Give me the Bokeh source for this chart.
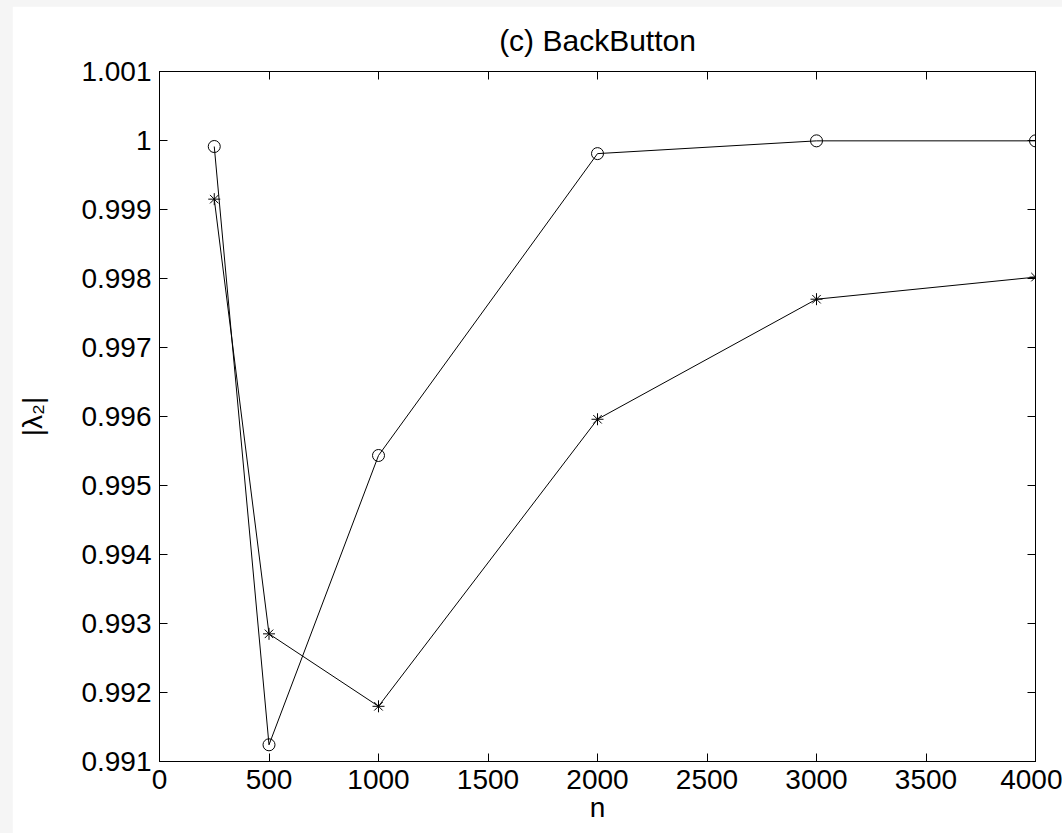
from bokeh.plotting import figure
from bokeh.models import LinearAxis, FixedTicker, Range1d
from bokeh.embed import file_html
from bokeh.resources import INLINE

# data
n_values = [250, 500, 1000, 2000, 3000, 4000]
circle_series = [0.999913, 0.991242, 0.995435, 0.999810, 0.999995, 0.999995]
star_series = [0.999150, 0.992850, 0.991800, 0.995960, 0.997700, 0.998020]
x_ticks = [0, 500, 1000, 1500, 2000, 2500, 3000, 3500, 4000]
y_ticks = [0.991, 0.992, 0.993, 0.994, 0.995, 0.996, 0.997, 0.998, 0.999, 1.0, 1.001]
y_tick_labels = ["0.991", "0.992", "0.993", "0.994", "0.995", "0.996", "0.997", "0.998", "0.999", "1", "1.001"]
title_text = "(c) BackButton"
x_label = "n"
y_label = "|λ₂|"

FONT = "Liberation Sans"

p = figure(width=1050, height=827, output_backend="svg", toolbar_location=None,
           x_range=Range1d(0, 4000), y_range=Range1d(0.991, 1.001),
           min_border_left=147, min_border_right=27, min_border_top=65, min_border_bottom=72,
           x_axis_location=None, y_axis_location=None)
p.margin = (6, 0, 0, 12)
p.grid.visible = False
p.outline_line_color = "black"
p.outline_line_width = 1
p.background_fill_color = "white"
p.border_fill_color = "white"

p.title.text = title_text
p.title.align = "center"
p.title.text_font = FONT
p.title.text_font_size = "30px"
p.title.text_font_style = "normal"
p.title.text_color = "black"
p.title.standoff = 30


def style_axis(ax, labels=True):
    ax.major_tick_in = 8
    ax.major_tick_out = 0
    ax.minor_tick_in = 0
    ax.minor_tick_out = 0
    ax.axis_line_color = "black"
    ax.major_tick_line_color = "black"
    ax.major_label_text_font = FONT
    ax.axis_label_text_font = FONT
    ax.axis_label_text_font_style = "normal"
    ax.axis_label_text_color = "black"
    if labels:
        ax.major_label_text_color = "black"
        ax.major_label_text_font_size = "28px"
    else:
        ax.major_label_text_color = None
        ax.major_label_text_font_size = "10px"
        ax.major_label_standoff = 0


xb = LinearAxis(ticker=FixedTicker(ticks=x_ticks), axis_label=x_label)
style_axis(xb)
xb.major_label_standoff = 8
xb.axis_label_text_font_size = "28px"
xb.axis_label_standoff = 0
p.add_layout(xb, "below")

yl = LinearAxis(ticker=FixedTicker(ticks=y_ticks), axis_label=y_label)
style_axis(yl)
yl.major_label_standoff = 8
yl.major_label_overrides = {t: l for t, l in zip(y_ticks, y_tick_labels)}
yl.axis_label_text_font_size = "28px"
yl.axis_label_standoff = 30
p.add_layout(yl, "left")

xt = LinearAxis(ticker=FixedTicker(ticks=x_ticks))
style_axis(xt, labels=False)
p.add_layout(xt, "above")

yr = LinearAxis(ticker=FixedTicker(ticks=y_ticks))
style_axis(yr, labels=False)
p.add_layout(yr, "right")

p.line(n_values, circle_series, line_color="black", line_width=1)
p.scatter(n_values, circle_series, marker="circle", size=12, fill_color=None,
          line_color="black", line_width=1)
p.line(n_values, star_series, line_color="black", line_width=1)
p.scatter(n_values, star_series, marker="asterisk", size=12,
          line_color="black", line_width=1)

html = file_html(p, INLINE)
html = html.replace("</head>", "<style>html, body { background: #f5f5f5; margin: 0; }</style></head>", 1)
open("out.html", "w").write(html)
